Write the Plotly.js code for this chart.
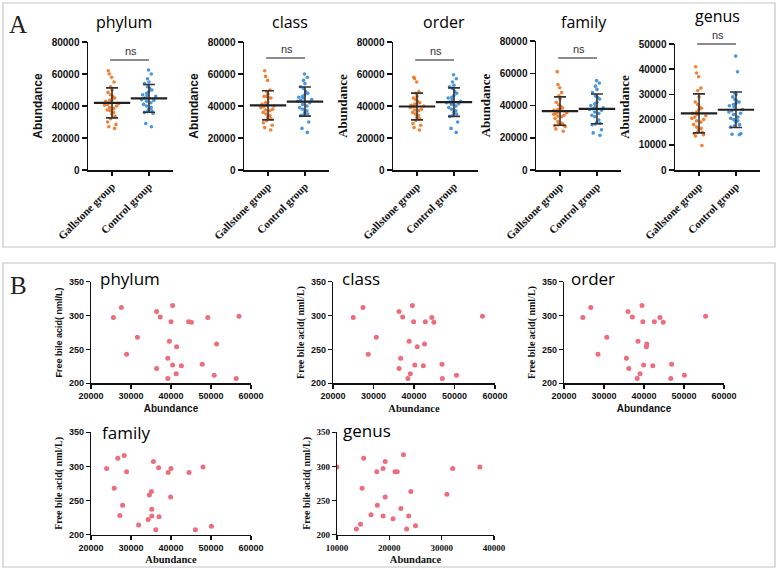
<!DOCTYPE html>
<html><head><meta charset="utf-8">
<script src="https://cdn.plot.ly/plotly-3.0.1.min.js"></script>
<style>html,body{margin:0;padding:0;background:#fff}#chart{width:778px;height:570px}</style>
</head><body><div id="chart"></div>
<script>
// ---------- DATA ----------
const groups = ['Gallstone group', 'Control group'];
const ranks = ['phylum', 'class', 'order', 'family', 'genus'];

// Panel A: abundance per sample
const gallPhylum = [62000,60000,58000,55000,52000,50000,48500,47000,46000,45000,44000,43500,43000,42000,41500,41000,40500,40000,39000,38500,37500,37000,36000,35000,33500,32000,30000,28500,27000,26000];
const ctrlPhylum = [62500,60000,57000,55000,54000,52000,51000,50000,49000,48000,47000,46500,46000,45000,44000,43500,43000,42000,41000,40000,39000,38000,37000,36500,36000,35500,29000,27000];
const gallClass = [62000,58500,56000,50000,49000,47500,46000,46000,45000,45000,42500,42000,41000,40500,40000,39500,39000,38000,37500,37000,36000,35000,34000,33000,32000,31000,29500,28000,26500,25000];
const ctrlClass = [60000,58000,56000,54000,52000,51000,49000,48000,47000,46000,45500,45000,44000,43500,43000,42000,41000,40000,39000,38000,37000,36000,35000,34500,34000,30000,26000,23500];
const gallOrder = [58000,57000,55000,49000,48000,46000,45000,44000,43000,42000,41500,41000,40500,40000,40000,39500,39000,38000,37500,37000,36000,35000,34000,33000,32000,31000,29000,28000,26500,25000];
const ctrlOrder = [59500,57000,55000,53000,52000,51000,49000,48000,46500,45500,45000,44000,43000,42500,42000,41500,41000,40000,39000,38000,37000,36000,35000,34000,33500,30000,26000,23500];
const gallFamily = [61000,53000,51000,48000,46000,44000,42000,40500,39500,38500,38000,37500,37000,36000,35500,35000,34500,34000,33500,33000,32000,30000,29000,28500,28000,28000,27500,27000,25500,24000];
const ctrlFamily = [55500,54000,52000,50000,48000,46000,45000,44000,42000,41000,40000,39000,38500,38000,37500,37000,36000,35000,34000,33000,31000,29500,29000,28500,28000,25000,23000,21500];
const gallGenus = [41000,38500,37000,32500,31500,29000,27000,26000,25000,24500,24000,23000,22500,22000,21500,21000,20500,20000,19500,19000,18000,17000,16500,16000,15000,15000,14500,14000,13500,9700];
const ctrlGenus = [45200,39000,30500,30000,29000,28000,27500,27000,26500,26000,25500,25000,24000,23500,23000,22500,22000,21000,20500,20000,19500,19000,18000,17500,17000,14500,14200,14000];
const abundanceMax = [80000, 80000, 80000, 80000, 50000];
const abundanceStep = [20000, 20000, 20000, 20000, 10000];

// Panel B: abundance vs free bile acid
const abPhylum = [25600,27600,28900,31600,36400,37300,36400,40400,40000,39600,41400,39200,40400,41300,39200,42600,44400,45100,49200,47800,51400,50800,57000,56300];
const fbaPhylum = [297,312,243,268,306,298,222,315,291,262,254,237,227,214,207,226,291,290,297,228,258,212,299,207];
const abClass = [25000,27400,28700,30700,36300,37200,36300,36700,39600,39900,38800,40800,40200,39100,38500,42800,42600,42300,44400,44900,46900,47000,50500,56900];
const fbaClass = [297,312,243,268,306,298,222,237,315,291,262,254,227,214,207,291,258,226,297,290,228,207,212,299];
const abOrder = [24700,26700,28500,30700,36000,37100,35600,36200,39500,39700,38500,40700,40600,39900,39000,38300,42600,42200,44000,44800,46900,46700,50100,55400];
const fbaOrder = [297,312,243,268,306,298,237,222,315,291,262,258,254,227,214,207,291,226,297,290,228,207,212,299];
const abFamily = [23900,26700,28300,28900,25800,27900,27200,31900,35600,36900,40000,39300,44500,48000,35100,34600,39900,35200,35200,37000,34300,36200,46100,50100];
const fbaFamily = [297,312,316,292,268,243,228,214,307,298,297,291,291,299,263,258,255,237,227,226,222,207,207,212];
const abGenus = [10000,15100,17600,18800,19200,21100,21500,22700,32100,37300,14800,24100,19200,31000,17700,22200,16500,18800,23700,20700,14500,13700,23300,25000];
const fbaGenus = [299,312,292,297,307,292,292,317,297,299,268,263,255,259,243,238,229,227,227,223,215,208,208,213];
const bRangeX = [[20000,60000],[20000,60000],[20000,60000],[20000,60000],[10000,40000]];

// ---------- HELPERS ----------
const W = 778, H = 570;
const px = x => x / W;
const py = y => 1 - y / H;
const mean = a => a.reduce((s, v) => s + v, 0) / a.length;
const sd = a => { const m = mean(a); return Math.sqrt(a.reduce((s, v) => s + (v - m) * (v - m), 0) / (a.length - 1)); };

const SANS = 'Liberation Sans, Arial, sans-serif';
const SERIF = 'Liberation Serif, Times New Roman, serif';
const TITLEF = 'Open Sans, Noto Sans, sans-serif';
const ORANGE = '#f07a2a', BLUE = '#3f8fdc', PINK = '#ee6d7c';

const gallSets = [gallPhylum, gallClass, gallOrder, gallFamily, gallGenus];
const ctrlSets = [ctrlPhylum, ctrlClass, ctrlOrder, ctrlFamily, ctrlGenus];
const abSets = [abPhylum, abClass, abOrder, abFamily, abGenus];
const fbaSets = [fbaPhylum, fbaClass, fbaOrder, fbaFamily, fbaGenus];

// layout geometry (pixels)
const aX = [[88,173],[244,329],[393,478],[536,621],[675,760]];
const aTop = [42, 42, 42, 41, 44];
const aBottom = 170;
const aTitleX = [124, 290, 444, 584, 717];
const aTitleY = [22, 22, 22, 22, 16];
const aNsY = [60, 58, 60, 58, 44];
const aYTitleFont = [SANS, SANS, SERIF, SERIF, SERIF];

const bX = [[91,251],[333,495],[564,724],[91,251],[337,494]];
const bY = [[281.7,383.3],[281.7,383.3],[281.7,383.3],[432.3,534.5],[432.3,534.5]];
const bTitleX = [130, 361, 593, 126, 367];
const bTitleY = [278, 278, 278, 432, 430];
const bTickFont = [SANS, SANS, SANS, SANS, SERIF];
const bXTitleFont = [SANS, SERIF, SANS, SERIF, SERIF];
const bYTitleFont = [SANS, SERIF, SERIF, SERIF, SERIF];

const traces = [];
const layout = {
  width: W, height: H, autosize: false,
  margin: {l: 0, r: 0, t: 0, b: 0, pad: 0},
  paper_bgcolor: '#fff', plot_bgcolor: 'rgba(0,0,0,0)',
  showlegend: false, boxmode: 'overlay',
  shapes: [], annotations: []
};

// ---------- PANEL A ----------
ranks.forEach((rk, i) => {
  const s = i === 0 ? '' : String(i + 1);
  const xa = 'x' + s, ya = 'y' + s;
  [gallSets[i], ctrlSets[i]].forEach((arr, g) => {
    traces.push({
      type: 'box', x: arr.map(() => groups[g]), y: arr, xaxis: xa, yaxis: ya,
      boxpoints: 'all', jitter: 0.75, pointpos: 0, width: 0.55,
      line: {width: 0, color: 'rgba(0,0,0,0)'}, fillcolor: 'rgba(0,0,0,0)',
      marker: {size: 3.6, color: g === 0 ? ORANGE : BLUE, opacity: 0.95},
      hoverinfo: 'y', showlegend: false
    });
  });
  const ms = [mean(gallSets[i]), mean(ctrlSets[i])];
  const ss = [sd(gallSets[i]), sd(ctrlSets[i])];
  traces.push({
    type: 'scatter', mode: 'markers', x: groups, y: ms, xaxis: xa, yaxis: ya,
    error_y: {type: 'data', array: ss, visible: true, color: '#333', thickness: 1.6, width: 6},
    marker: {symbol: 'line-ew', size: 26, color: '#222', line: {width: 2.2, color: '#222'}},
    showlegend: false, hoverinfo: 'y'
  });
  layout['xaxis' + s] = {
    domain: [px(aX[i][0]), px(aX[i][1])], anchor: ya,
    type: 'category', categoryorder: 'array', categoryarray: groups,
    range: [-0.65, 1.65], showline: true, linecolor: '#111', linewidth: 1.5,
    ticks: 'outside', ticklen: 4, tickwidth: 1.5, tickcolor: '#111', tickangle: -45,
    tickfont: {family: SERIF, size: 11, weight: 'bold', color: '#111'},
    showgrid: false, zeroline: false
  };
  layout['yaxis' + s] = {
    domain: [py(aBottom), py(aTop[i])], anchor: xa,
    range: [0, abundanceMax[i]], dtick: abundanceStep[i], tickformat: 'd',
    showline: true, linecolor: '#111', linewidth: 1.5,
    ticks: 'outside', ticklen: 5, tickwidth: 1.5, tickcolor: '#111',
    tickfont: {family: SANS, size: 10, weight: 'bold', color: '#111'},
    title: {text: 'Abundance', font: {family: aYTitleFont[i], size: aYTitleFont[i] === SANS ? 12 : 13, weight: 'bold', color: '#111'}, standoff: 6},
    showgrid: false, zeroline: false
  };
  layout.annotations.push({
    xref: 'paper', yref: 'paper', x: px(aTitleX[i]), y: py(aTitleY[i]),
    text: rk, showarrow: false, xanchor: 'center', yanchor: 'middle',
    font: {family: TITLEF, size: 16, color: '#000'}
  });
  layout.annotations.push({
    xref: xa, yref: 'paper', x: 0.5, y: py(aNsY[i] - 1),
    text: 'ns', showarrow: false, xanchor: 'center', yanchor: 'bottom',
    font: {family: SANS, size: 11, color: '#333'}
  });
  layout.shapes.push({
    type: 'line', xref: xa, yref: 'paper', x0: -0.05, x1: 1.0,
    y0: py(aNsY[i]), y1: py(aNsY[i]), line: {color: '#666', width: 1.5}
  });
});

// ---------- PANEL B ----------
ranks.forEach((rk, i) => {
  const n = i + 6;
  const xa = 'x' + n, ya = 'y' + n;
  traces.push({
    type: 'scatter', mode: 'markers', x: abSets[i], y: fbaSets[i], xaxis: xa, yaxis: ya,
    marker: {size: 5, color: PINK}, showlegend: false
  });
  layout['xaxis' + n] = {
    domain: [px(bX[i][0]), px(bX[i][1])], anchor: ya,
    range: bRangeX[i], dtick: 10000, tickformat: 'd',
    showline: true, linecolor: '#111', linewidth: 1.2,
    ticks: 'outside', ticklen: 4, tickwidth: 1.2, tickcolor: '#111',
    tickfont: {family: bTickFont[i], size: 9, weight: 'bold', color: '#111'},
    title: {text: 'Abundance', font: {family: bXTitleFont[i], size: bXTitleFont[i] === SANS ? 10 : 10.5, weight: 'bold', color: '#111'}, standoff: 4},
    showgrid: false, zeroline: false
  };
  layout['yaxis' + n] = {
    domain: [py(bY[i][1]), py(bY[i][0])], anchor: xa,
    range: [200, 350], dtick: 50,
    showline: true, linecolor: '#111', linewidth: 1.2,
    ticks: 'outside', ticklen: 4, tickwidth: 1.2, tickcolor: '#111',
    tickfont: {family: bTickFont[i], size: 9, weight: 'bold', color: '#111'},
    title: {text: 'Free bile acid( nml/L)', font: {family: bYTitleFont[i], size: bYTitleFont[i] === SANS ? 9 : 10, weight: 'bold', color: '#111'}, standoff: 4},
    showgrid: false, zeroline: false
  };
  layout.annotations.push({
    xref: 'paper', yref: 'paper', x: px(bTitleX[i]), y: py(bTitleY[i]),
    text: rk, showarrow: false, xanchor: 'center', yanchor: 'middle',
    font: {family: TITLEF, size: 17, color: '#000'}
  });
});

// ---------- PANEL FRAMES & LETTERS ----------
layout.shapes.push({type: 'rect', xref: 'paper', yref: 'paper', x0: px(3), x1: px(775), y0: py(247), y1: py(3), line: {color: '#c4c4c4', width: 1.2}});
layout.shapes.push({type: 'rect', xref: 'paper', yref: 'paper', x0: px(3), x1: px(775), y0: py(567), y1: py(263), line: {color: '#c4c4c4', width: 1.2}});
layout.annotations.push({xref: 'paper', yref: 'paper', x: px(18), y: py(24), text: 'A', showarrow: false, xanchor: 'center', yanchor: 'middle', font: {family: SERIF, size: 25, color: '#222'}});
layout.annotations.push({xref: 'paper', yref: 'paper', x: px(18), y: py(285), text: 'B', showarrow: false, xanchor: 'center', yanchor: 'middle', font: {family: SERIF, size: 25, color: '#222'}});

Plotly.newPlot('chart', traces, layout, {displayModeBar: false, staticPlot: true});
</script>
</body></html>
